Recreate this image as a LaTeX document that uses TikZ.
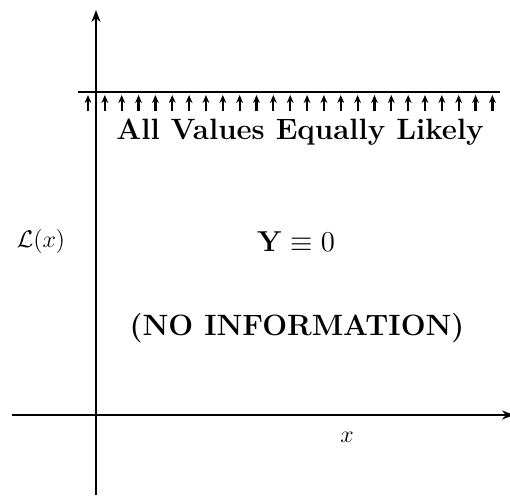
\documentclass[tikz,border=0pt]{standalone}
\usepackage{amsmath,amssymb}
\usetikzlibrary{arrows.meta}
\begin{document}
\begin{tikzpicture}[x=0.5pt,y=-0.5pt,
  axis/.style={line width=1.2pt},
  uparr/.style={line width=1.1pt,-{Stealth[length=4pt,width=3.4pt]}},
  lbl/.style={inner sep=0pt,font=\fontsize{14.7}{17}\selectfont\bfseries}]
\useasboundingbox (0,0) rectangle (510,498);
\coordinate (vb) at (96,495);
\coordinate (vt) at (96,10);
\coordinate (hl) at (12,415);
\coordinate (hr) at (514,415);
\coordinate (bl) at (78,92);
\coordinate (br) at (500,92);
\draw[axis,-{Stealth[length=6pt,width=4.5pt]}] (vb) -- (vt);
\draw[axis,-{Stealth[length=6pt,width=4.5pt]}] (hl) -- (hr);
\draw[line width=1.4pt] (bl) -- (br);
\foreach \i in {0,...,24}{
  \coordinate (a\i) at ({88+16.85*\i},111);
  \coordinate (b\i) at ({88+16.85*\i},95);
  \draw[uparr] (a\i) -- (b\i);
}
\node[lbl] (t1) at (300,132) {All Values Equally Likely};
\node[inner sep=0pt,font=\fontsize{13.5}{16}\selectfont] (t2) at (296,242) {$\mathbf{Y}\equiv0$};
\node[lbl] (t3) at (297,328) {(NO INFORMATION)};
\node[inner sep=0pt,font=\fontsize{11.5}{14}\selectfont] (ly) at (41,242) {$\mathcal{L}(x)$};
\node[inner sep=0pt,font=\fontsize{13}{15}\selectfont] (lx) at (347,437) {$x$};
\end{tikzpicture}
\end{document}
